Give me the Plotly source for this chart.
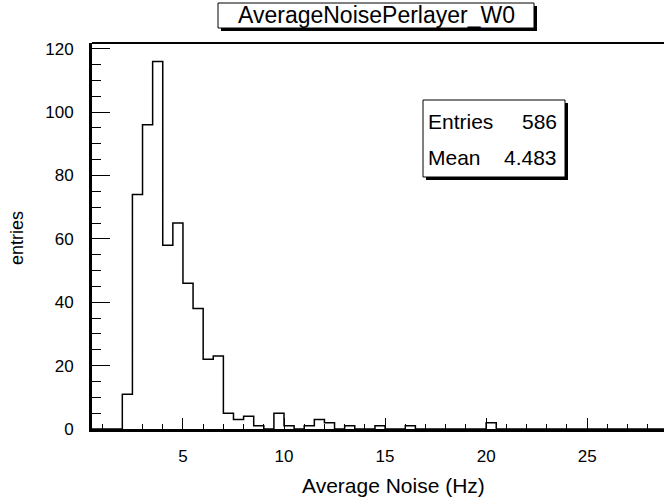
import plotly.graph_objects as go

# ---- data ----
bin_low = 0.5
bin_width = 0.5
n_bins = 60
# counts per bin (bin left edge -> count), others zero
bin_left_edges = [2.0, 2.5, 3.0, 3.5, 4.0, 4.5, 5.0, 5.5, 6.0, 6.5, 7.0, 7.5, 8.0, 8.5,
                  9.5, 10.0, 11.0, 11.5, 12.0, 13.0, 14.5, 16.0, 20.0]
bin_counts = [11, 74, 96, 116, 58, 65, 46, 38, 22, 23, 5, 3, 4, 1,
              5, 1, 1, 3, 2, 1, 1, 1, 2]
title_text = "AverageNoisePerlayer_W0"
stats_labels = ["Entries", "Mean"]
stats_values = ["586", "4.483"]
x_title = "Average Noise (Hz)"
y_title = "entries"

# build full histogram
edges = [bin_low + i * bin_width for i in range(n_bins + 1)]
counts = [0] * n_bins
for e, c in zip(bin_left_edges, bin_counts):
    idx = int(round((e - bin_low) / bin_width))
    counts[idx] = c
xs = edges
ys = counts + [counts[-1]]

W, H = 664, 498
L, R, T, B = 92, 0, 43, 69
pw, ph = W - L - R, H - T - B


def px(x):
    return (x - L) / pw


def py(y):
    return (H - B - y) / ph


FONT = "Liberation Sans, Arial, Helvetica, sans-serif"

fig = go.Figure()
fig.add_trace(go.Scatter(x=xs, y=ys, mode="lines", line=dict(color="black", width=1.5, shape="hv"),
                         hoverinfo="skip", showlegend=False))

shapes = []
# top frame line
shapes.append(dict(type="line", xref="paper", yref="paper", x0=0, x1=1, y0=1, y1=1,
                   line=dict(color="black", width=2)))
# title box shadow + box
tl, tr, tt, tb = 218, 534, 3, 28
shapes.append(dict(type="rect", xref="paper", yref="paper", x0=px(tl + 3), x1=px(tr + 3),
                   y0=py(tb + 3), y1=py(tt + 3), fillcolor="black", line=dict(width=0), layer="above"))
shapes.append(dict(type="rect", xref="paper", yref="paper", x0=px(tl), x1=px(tr),
                   y0=py(tb), y1=py(tt), fillcolor="white", line=dict(color="black", width=1), layer="above"))
# stats box shadow + box
sl, sr, st, sb = 423, 565, 100, 177
shapes.append(dict(type="rect", xref="paper", yref="paper", x0=px(sl + 3), x1=px(sr + 3),
                   y0=py(sb + 3), y1=py(st + 3), fillcolor="black", line=dict(width=0), layer="above"))
shapes.append(dict(type="rect", xref="paper", yref="paper", x0=px(sl), x1=px(sr),
                   y0=py(sb), y1=py(st), fillcolor="white", line=dict(color="black", width=1), layer="above"))

annotations = []
annotations.append(dict(text=title_text, xref="paper", yref="paper", x=px((tl + tr) / 2), y=py((tt + tb) / 2),
                        xanchor="center", yanchor="middle", showarrow=False,
                        font=dict(family=FONT, size=23, color="black")))
row_y = [121.0, 157.5]
for lab, val, yy in zip(stats_labels, stats_values, row_y):
    annotations.append(dict(text=lab, xref="paper", yref="paper", x=px(426), y=py(yy),
                            xanchor="left", yanchor="middle", showarrow=False,
                            font=dict(family=FONT, size=21, color="black")))
    annotations.append(dict(text=val, xref="paper", yref="paper", x=px(559), y=py(yy),
                            xanchor="right", yanchor="middle", showarrow=False,
                            font=dict(family=FONT, size=21, color="black")))
annotations.append(dict(text=x_title, xref="paper", yref="paper", x=px(393), y=py(485),
                        xanchor="center", yanchor="middle", showarrow=False,
                        font=dict(family=FONT, size=21, color="black")))
annotations.append(dict(text=y_title, xref="paper", yref="paper", x=px(17), y=py(238),
                        xanchor="center", yanchor="middle", showarrow=False, textangle=-90,
                        font=dict(family=FONT, size=18, color="black")))

fig.update_layout(
    width=W, height=H,
    margin=dict(l=L, r=R, t=T, b=B, pad=0),
    paper_bgcolor="white", plot_bgcolor="white",
    shapes=shapes, annotations=annotations,
    hovermode=False,
    xaxis=dict(range=[0.5, 28.8], showgrid=False, zeroline=False,
               showline=True, linecolor="black", linewidth=3,
               ticks="inside", ticklen=11, tickwidth=1, tickcolor="black",
               tick0=0, dtick=5, ticklabelstandoff=10,
               minor=dict(ticks="inside", ticklen=5, tickwidth=1, tickcolor="black", dtick=1),
               tickfont=dict(family=FONT, size=17, color="black")),
    yaxis=dict(range=[0, 121.8], showgrid=False, zeroline=False,
               showline=True, linecolor="black", linewidth=3,
               ticks="inside", ticklen=18, tickwidth=1, tickcolor="black",
               tick0=0, dtick=20, ticklabelstandoff=12,
               minor=dict(ticks="inside", ticklen=9, tickwidth=1, tickcolor="black", dtick=5),
               tickfont=dict(family=FONT, size=17, color="black")),
)

fig.write_html("out.html", config={"displayModeBar": False},
               post_script="document.body.style.margin='0px';")
